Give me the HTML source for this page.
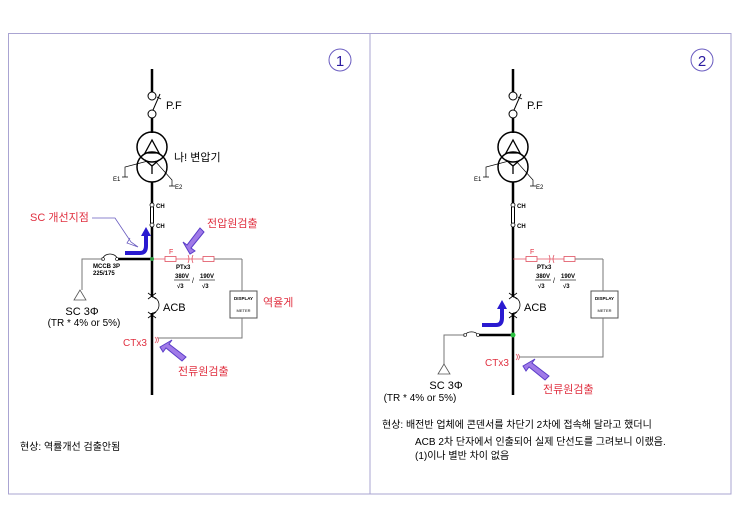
<!DOCTYPE html>
<html><head><meta charset="utf-8"><style>
html,body{margin:0;padding:0;background:#fff;}
svg{display:block;font-family:"Liberation Sans","Noto Sans CJK KR",sans-serif;}
</style></head><body>
<svg width="740" height="527" viewBox="0 0 740 527" xmlns="http://www.w3.org/2000/svg">
<defs>
<g id="top">
  <line x1="152" y1="69" x2="152" y2="92" stroke="#000" stroke-width="2.5"/>
  <circle cx="152" cy="96" r="4" fill="#fff" stroke="#000" stroke-width="1"/>
  <circle cx="152" cy="114" r="4" fill="#fff" stroke="#000" stroke-width="1"/>
  <line x1="153" y1="110" x2="160" y2="94" stroke="#000" stroke-width="1"/>
  <line x1="157" y1="97" x2="161" y2="99" stroke="#000" stroke-width="0.8"/>
  <line x1="152" y1="118" x2="152" y2="133" stroke="#000" stroke-width="2.5"/>
  <text x="166" y="109" font-size="11">P.F</text>
  <circle cx="152" cy="147" r="15" fill="none" stroke="#000" stroke-width="1.5"/>
  <circle cx="152" cy="167" r="15" fill="none" stroke="#000" stroke-width="1.5"/>
  <polygon points="152,140 145,153 159,153" fill="none" stroke="#000" stroke-width="1.3"/>
  <path d="M145,160 L152,166 L159,160 M152,166 L152,174" fill="none" stroke="#000" stroke-width="1.3"/>
  <path d="M148,161 L125,167 L125,177 M122,177 L128,177" fill="none" stroke="#000" stroke-width="0.7"/>
  <path d="M155,161 L172,180 L172,186 M169,186 L175,186" fill="none" stroke="#000" stroke-width="0.7"/>
  <text x="113" y="181" font-size="6">E1</text>
  <text x="175" y="189" font-size="6">E2</text>
  <line x1="152" y1="182" x2="152" y2="203" stroke="#000" stroke-width="2.5"/>
  <circle cx="152" cy="205" r="2" fill="#fff" stroke="#000" stroke-width="0.8"/>
  <circle cx="152" cy="225" r="2" fill="#fff" stroke="#000" stroke-width="0.8"/>
  <line x1="150.5" y1="207" x2="150.5" y2="223" stroke="#000" stroke-width="1"/>
  <line x1="153.5" y1="207" x2="153.5" y2="223" stroke="#000" stroke-width="1"/>
  <text x="156" y="208" font-size="6" font-weight="bold">CH</text>
  <text x="156" y="228" font-size="6" font-weight="bold">CH</text>
  <line x1="152" y1="227" x2="152" y2="395" stroke="#000" stroke-width="2.5"/>
  <line x1="152" y1="259" x2="242" y2="259" stroke="#e05060" stroke-width="0.8"/>
  <rect x="165" y="256.5" width="11" height="5" fill="#fff" stroke="#e05060" stroke-width="0.8"/>
  <path d="M188,255 Q190,259 188,263 M193,255 Q191,259 193,263" fill="none" stroke="#e05060" stroke-width="0.8"/>
  <rect x="203" y="256.5" width="11" height="5" fill="#fff" stroke="#e05060" stroke-width="0.8"/>
  <line x1="214" y1="259" x2="242" y2="259" stroke="#777" stroke-width="1"/>
  <text x="169" y="254" font-size="7" fill="#e03040">F</text>
  <text x="176" y="269" font-size="6" font-weight="bold">PTx3</text>
  <text x="175" y="278" font-size="6" font-weight="bold">380V</text>
  <line x1="174" y1="280" x2="190" y2="280" stroke="#000" stroke-width="0.6"/>
  <text x="177" y="288" font-size="6" font-weight="bold">√3</text>
  <text x="192" y="283" font-size="7">/</text>
  <text x="200" y="278" font-size="6" font-weight="bold">190V</text>
  <line x1="199" y1="280" x2="215" y2="280" stroke="#000" stroke-width="0.6"/>
  <text x="202" y="288" font-size="6" font-weight="bold">√3</text>
  <rect x="146" y="290" width="12" height="30" fill="#fff"/>
  <line x1="152" y1="290" x2="152" y2="320" stroke="#000" stroke-width="2.5"/>
  <rect x="148" y="297" width="8" height="16" fill="#fff"/>
  <path d="M152,297 A7,8 0 0 1 152,313" fill="none" stroke="#000" stroke-width="0.8"/>
  <path d="M148,293 L156,299 M156,293 L148,299 M148,312 L156,318 M156,312 L148,318" stroke="#000" stroke-width="0.8"/>
  <text x="163" y="311" font-size="11">ACB</text>
  <rect x="230" y="291" width="27" height="27" fill="#fff" stroke="#555" stroke-width="1"/>
  <text x="243.5" y="300" font-size="4.5" text-anchor="middle" font-weight="bold">DISPLAY</text>
  <text x="243.5" y="312" font-size="4" text-anchor="middle">METER</text>
  <line x1="242" y1="259" x2="242" y2="291" stroke="#777" stroke-width="1"/>
</g>
<g id="pa"><path d="M0,0 L12,-7 L9,-3 L26,10 L22,14 L6,1 L3,5 Z" fill="#a07ae8" stroke="#5a3cc8" stroke-width="1"/></g>
</defs>
<rect x="8.5" y="33.5" width="722.5" height="460.5" fill="none" stroke="#aaa4d2" stroke-width="1"/>
<line x1="370" y1="33" x2="370" y2="494" stroke="#aaa4d2" stroke-width="1"/>
<circle cx="340" cy="60" r="11" fill="none" stroke="#6a5cc0" stroke-width="1"/>
<text x="340" y="66" font-size="15" text-anchor="middle" fill="#2a1aa0">1</text>
<circle cx="702" cy="60" r="11" fill="none" stroke="#6a5cc0" stroke-width="1"/>
<text x="702" y="66" font-size="15" text-anchor="middle" fill="#2a1aa0">2</text>

<use href="#top"/>
<text x="174" y="161" font-size="11">나! 변압기</text>
<line x1="117" y1="259" x2="152" y2="259" stroke="#000" stroke-width="2.5"/>
<path d="M103,259 A7,5 0 0 1 117,259" fill="none" stroke="#000" stroke-width="0.8"/>
<circle cx="103" cy="259" r="1.5" fill="#fff" stroke="#000" stroke-width="0.6"/>
<circle cx="117" cy="259" r="1.5" fill="#fff" stroke="#000" stroke-width="0.6"/>
<path d="M103,259 L82,259 L82,290" fill="none" stroke="#777" stroke-width="1"/>
<polygon points="80,290 74,300 86,300" fill="none" stroke="#555" stroke-width="0.8"/>
<text x="93" y="268" font-size="6" font-weight="bold">MCCB 3P</text>
<text x="93" y="275" font-size="6" font-weight="bold">225/175</text>
<text x="82" y="315" font-size="11" text-anchor="middle">SC 3Φ</text>
<text x="84" y="326" font-size="10" text-anchor="middle">(TR * 4% or 5%)</text>
<circle cx="152" cy="259" r="2" fill="#2a9a40"/>
<text x="123" y="346" font-size="10" fill="#e03040">CTx3</text>
<path d="M155,337 Q158,340 155,343 M157,337 Q160,340 157,343" fill="none" stroke="#e05060" stroke-width="0.8"/>
<path d="M158,338 L242,338 L242,318" fill="none" stroke="#777" stroke-width="1"/>
<text x="263" y="306" font-size="11" fill="#e03040">역율게</text>
<text x="30" y="221" font-size="11" fill="#e03040">SC 개선지점</text>
<path d="M92,218 L115,218 L131,242 L138,247 L127,243 L130,238" fill="none" stroke="#6a5cc0" stroke-width="0.8"/>
<path d="M125,253 L140,253 Q146,253 146,246 L146,234" fill="none" stroke="#2a1ad0" stroke-width="4"/>
<polygon points="141,236 151,236 146,227" fill="#2a1ad0"/>
<text x="207" y="227" font-size="11" fill="#e03040">전압원검출</text>
<use href="#pa" transform="translate(190,254) rotate(-90)"/>
<use href="#pa" transform="translate(160,347)"/>
<text x="178" y="375" font-size="11" fill="#e03040">전류원검출</text>
<text x="20" y="450" font-size="10">현상:  역률개선  검출안됨</text>

<use href="#top" transform="translate(361,0)"/>
<line x1="478" y1="335" x2="513" y2="335" stroke="#000" stroke-width="2.5"/>
<path d="M465,335 A7,5 0 0 1 478,335" fill="none" stroke="#000" stroke-width="0.8"/>
<circle cx="465" cy="335" r="1.5" fill="#fff" stroke="#000" stroke-width="0.6"/>
<circle cx="478" cy="335" r="1.5" fill="#fff" stroke="#000" stroke-width="0.6"/>
<path d="M465,335 L444,335 L444,364" fill="none" stroke="#777" stroke-width="1"/>
<polygon points="444,364 438,374 450,374" fill="none" stroke="#555" stroke-width="0.8"/>
<circle cx="513" cy="335" r="2.5" fill="#2ac040"/>
<text x="446" y="389" font-size="11" text-anchor="middle">SC 3Φ</text>
<text x="420" y="401" font-size="10" text-anchor="middle">(TR * 4% or 5%)</text>
<text x="485" y="366" font-size="10" fill="#e03040">CTx3</text>
<path d="M516,354 Q519,357 516,360 M518,354 Q521,357 518,360" fill="none" stroke="#e05060" stroke-width="0.8"/>
<path d="M519,357 L603,357 L603,318" fill="none" stroke="#777" stroke-width="1"/>
<path d="M482,325 L496,325 Q502,325 502,318 L502,307" fill="none" stroke="#2a1ad0" stroke-width="4"/>
<polygon points="497,309 507,309 502,300" fill="#2a1ad0"/>
<use href="#pa" transform="translate(523,366)"/>
<text x="543" y="393" font-size="11" fill="#e03040">전류원검출</text>
<text x="382" y="428" font-size="10">현상:  배전반  업체에  콘덴서를  차단기  2차에  접속해  달라고  했더니</text>
<text x="415" y="445" font-size="10">ACB  2차  단자에서  인출되어  실제  단선도를  그려보니  이랬음.</text>
<text x="415" y="459" font-size="10">(1)이나  별반  차이  없음</text>
</svg>
</body></html>
